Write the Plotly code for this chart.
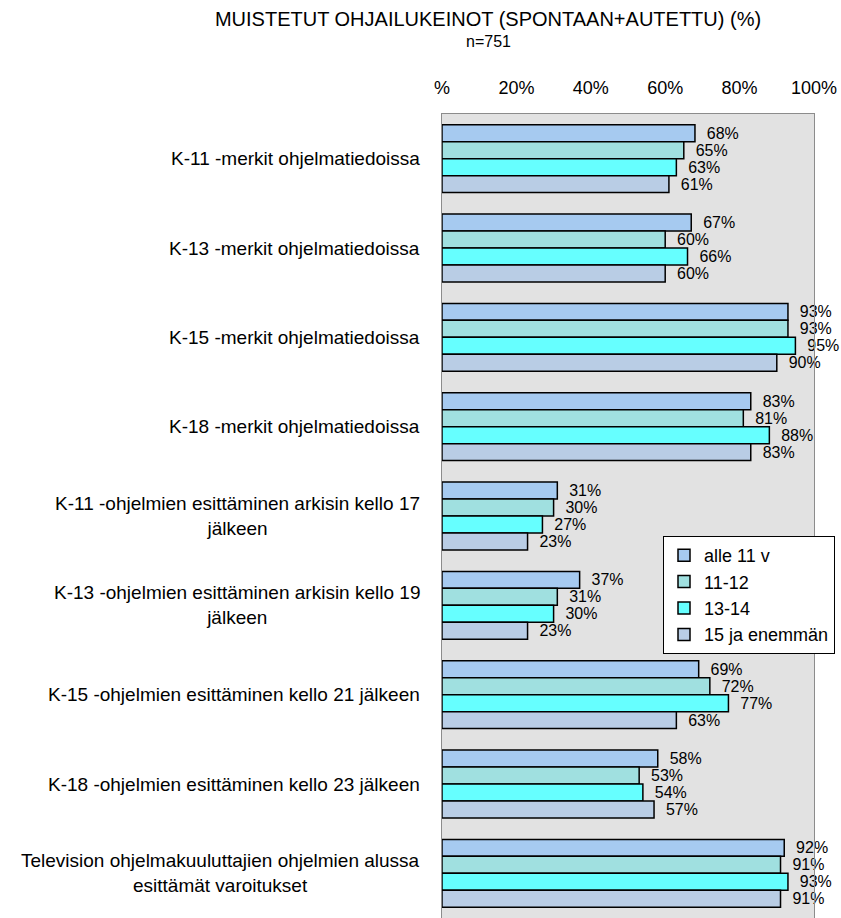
import plotly.graph_objects as go

categories = [
    "K-11 -merkit ohjelmatiedoissa",
    "K-13 -merkit ohjelmatiedoissa",
    "K-15 -merkit ohjelmatiedoissa",
    "K-18 -merkit ohjelmatiedoissa",
    "K-11 -ohjelmien esittäminen arkisin kello 17<br>jälkeen",
    "K-13 -ohjelmien esittäminen arkisin kello 19<br>jälkeen",
    "K-15 -ohjelmien esittäminen kello 21 jälkeen",
    "K-18 -ohjelmien esittäminen kello 23 jälkeen",
    "Television ohjelmakuuluttajien ohjelmien alussa<br>esittämät varoitukset",
]
cat_ids = [f"c{i}" for i in range(len(categories))]

series_names = ["alle 11 v", "11-12", "13-14", "15 ja enemmän"]
alle_11 = [68, 67, 93, 83, 31, 37, 69, 58, 92]
v11_12 = [65, 60, 93, 81, 30, 31, 72, 53, 91]
v13_14 = [63, 66, 95, 88, 27, 30, 77, 54, 93]
v15_plus = [61, 60, 90, 83, 23, 23, 63, 57, 91]
series_values = [alle_11, v11_12, v13_14, v15_plus]
series_colors = ["#A6CAF0", "#A0E0E0", "#66FFFF", "#B9CDE5"]

tick_vals = [0, 20, 40, 60, 80, 100]
tick_text = ["%", "20%", "40%", "60%", "80%", "100%"]

FONT = "Liberation Sans, Arial, sans-serif"

W, H = 841, 918
PL, PR, PT, PB = 442, 814, 114, 918

fig = go.Figure()
for name, vals, col in zip(series_names, series_values, series_colors):
    fig.add_trace(go.Bar(
        y=cat_ids, x=vals, name=name, orientation="h",
        marker=dict(color=col, line=dict(color="black", width=1.5)),
        text=[f"\u00a0\u00a0{v}%" for v in vals], textposition="outside",
        textfont=dict(size=16, color="black", family=FONT),
        cliponaxis=False,
    ))

annotations = []
for cid, label in zip(cat_ids, categories):
    annotations.append(dict(
        x=0, xref="paper", xshift=-20, y=cid, yref="y",
        text=label, showarrow=False, xanchor="right", yanchor="middle",
        align="center", font=dict(size=19, color="black", family=FONT),
    ))

annotations.append(dict(
    x=(488 - PL) / (PR - PL), xref="paper", y=1, yref="paper", yshift=PT - 41,
    xanchor="center", yanchor="middle",
    text="n=751", showarrow=False, font=dict(size=16, color="black", family=FONT),
))

fig.update_layout(
    width=W, height=H,
    margin=dict(l=PL, r=W - PR, t=PT, b=H - PB, autoexpand=False),
    paper_bgcolor="white", plot_bgcolor="#E2E2E2",
    barmode="group", bargap=0.24, bargroupgap=0,
    font=dict(family=FONT, color="black"),
    showlegend=True,
    title=dict(
        text="MUISTETUT OHJAILUKEINOT (SPONTAAN+AUTETTU) (%)",
        x=488 / W, xanchor="center", y=1 - 19 / H, yanchor="middle",
        font=dict(size=20, color="black", family=FONT),
    ),
    xaxis=dict(
        side="top", range=[0, 100], tickvals=tick_vals, ticktext=tick_text,
        showgrid=False, zeroline=False, showline=True, mirror=True,
        linecolor="#8C8C8C", linewidth=1, ticks="", ticklabelstandoff=12,
        tickfont=dict(size=18, family=FONT, color="black"),
    ),
    yaxis=dict(
        categoryorder="array", categoryarray=cat_ids, autorange="reversed",
        showticklabels=False, showgrid=False, zeroline=False,
        showline=True, mirror=True, linecolor="#8C8C8C", linewidth=1, ticks="",
    ),
    legend=dict(
        x=(663 - PL) / (PR - PL), y=(PB - 536) / (PB - PT), xanchor="left", yanchor="top",
        bgcolor="white", bordercolor="black", borderwidth=1,
        font=dict(size=18, family=FONT, color="black"),
        traceorder="normal", itemwidth=30, tracegroupgap=0,
    ),
    annotations=annotations,
)

fig.write_html(
    "out.html",
    config={"displayModeBar": False},
    post_script="document.body.style.margin='0';document.body.style.overflow='hidden';",
)
